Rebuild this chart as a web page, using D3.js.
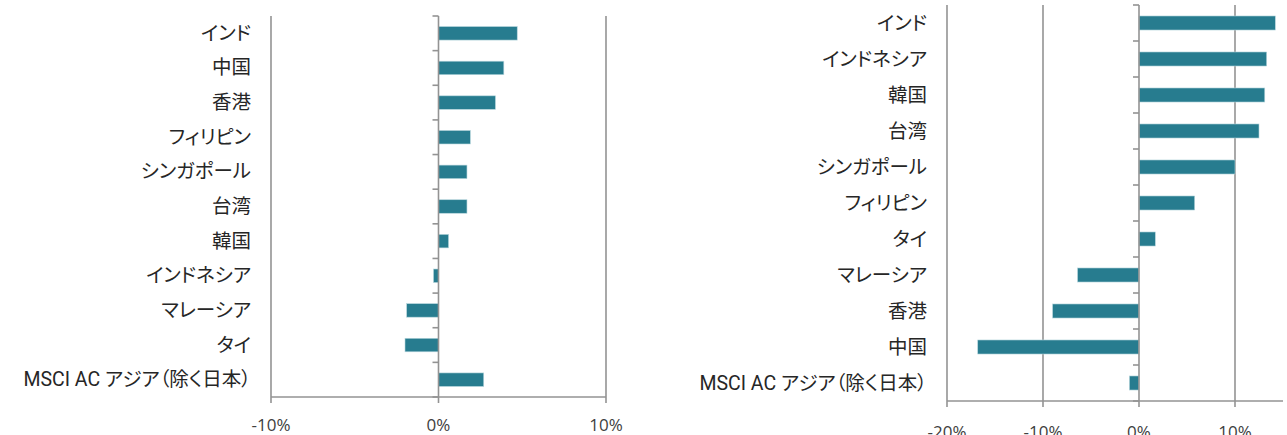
<!DOCTYPE html>
<html>
<head>
<meta charset="utf-8">
<script src="https://cdn.jsdelivr.net/npm/d3@7"></script>
<style>
body { margin: 0; background: #fff; }
text.cat { font-feature-settings: "palt"; }
</style>
</head>
<body>
<div id="chart"></div>
<script>
// left panel
let leftCategories = ['インド', '中国', '香港', 'フィリピン', 'シンガポール', '台湾', '韓国', 'インドネシア', 'マレーシア', 'タイ', 'MSCI AC アジア（除く日本）']
let leftValues = [4.7, 3.9, 3.4, 1.9, 1.7, 1.7, 0.6, -0.3, -1.9, -2.0, 2.7]
let leftTicks = [-10, 0, 10]

// right panel
let rightCategories = ['インド', 'インドネシア', '韓国', '台湾', 'シンガポール', 'フィリピン', 'タイ', 'マレーシア', '香港', '中国', 'MSCI AC アジア（除く日本）']
let rightValues = [14.2, 13.3, 13.1, 12.5, 10.0, 5.8, 1.7, -6.4, -9.0, -16.8, -1.0]
let rightTicks = [-20, -10, 0, 10]

let svg = d3.select('#chart').append('svg')
    .attr('width', 1287)
    .attr('height', 435)

let axisColor = '#939393'
let barColor = '#277c8f'

function panel(cfg) {
    let x = d3.scaleLinear()
        .domain(cfg.domain)
        .range([cfg.x0, cfg.x1])
    let y = d3.scaleBand()
        .domain(cfg.categories)
        .range([cfg.y0, cfg.y1])
        .paddingInner(0.61)
        .paddingOuter(0.305)
    let band = d3.scaleBand()
        .domain(cfg.categories)
        .range([cfg.y0, cfg.y1])

    let g = svg.append('g')

    // vertical gridlines
    g.selectAll('line.grid')
        .data(cfg.ticks.filter(t => t != 0))
        .enter()
        .append('line')
            .attr('x1', d => x(d))
            .attr('x2', d => x(d))
            .attr('y1', cfg.y0)
            .attr('y2', cfg.y1)
            .attr('stroke', axisColor)
            .attr('stroke-width', 1.6)

    // bars
    let data = cfg.categories.map((c, i) => ({ c, v: cfg.values[i] }))
    g.selectAll('rect.bar')
        .data(data)
        .enter()
        .append('rect')
            .attr('x', d => x(Math.min(0, d.v)))
            .attr('width', d => Math.abs(x(d.v) - x(0)))
            .attr('y', d => y(d.c))
            .attr('height', y.bandwidth())
            .attr('fill', barColor)
            .attr('stroke', '#b7d6dd')
            .attr('stroke-width', 0.6)

    // zero axis with category ticks
    g.append('line')
        .attr('x1', x(0)).attr('x2', x(0))
        .attr('y1', cfg.y0).attr('y2', cfg.y1)
        .attr('stroke', axisColor)
        .attr('stroke-width', 1.6)
    let bounds = cfg.categories.map(c => band(c)).concat([cfg.y1])
    g.selectAll('line.ctick')
        .data(bounds)
        .enter()
        .append('line')
            .attr('x1', x(0) - 6).attr('x2', x(0))
            .attr('y1', d => d).attr('y2', d => d)
            .attr('stroke', axisColor)
            .attr('stroke-width', 1.6)

    // bottom axis
    g.append('line')
        .attr('x1', cfg.x0).attr('x2', cfg.x1)
        .attr('y1', cfg.y1).attr('y2', cfg.y1)
        .attr('stroke', axisColor)
        .attr('stroke-width', 1.6)
    g.selectAll('line.xtick')
        .data(cfg.ticks)
        .enter()
        .append('line')
            .attr('x1', d => x(d)).attr('x2', d => x(d))
            .attr('y1', cfg.y1).attr('y2', cfg.y1 + 6)
            .attr('stroke', axisColor)
            .attr('stroke-width', 1.6)
    g.selectAll('text.xlabel')
        .data(cfg.ticks)
        .enter()
        .append('text')
            .attr('x', d => x(d))
            .attr('y', cfg.tickY)
            .attr('text-anchor', 'middle')
            .attr('font-family', '"Open Sans", sans-serif')
            .attr('font-size', 17)
            .attr('fill', '#404040')
            .text(d => d + '%')

    // category labels
    g.selectAll('text.cat')
        .data(cfg.categories)
        .enter()
        .append('text')
            .attr('class', 'cat')
            .attr('x', cfg.labelX)
            .attr('y', d => band(d) + band.bandwidth() / 2)
            .attr('text-anchor', 'end')
            .attr('dominant-baseline', 'central')
            .attr('font-family', 'Roboto, "Noto Sans CJK JP", sans-serif')
            .attr('font-size', 19.5)
            .attr('fill', '#262626')
            .text(d => d)
}

panel({
    categories: leftCategories, values: leftValues, ticks: leftTicks,
    domain: [-10, 10], x0: 271, x1: 606, y0: 16, y1: 397,
    labelX: 251, tickY: 431
})

panel({
    categories: rightCategories, values: rightValues, ticks: rightTicks,
    domain: [-20, 15], x0: 947, x1: 1283, y0: 5, y1: 401,
    labelX: 927, tickY: 438
})
</script>
</body>
</html>
